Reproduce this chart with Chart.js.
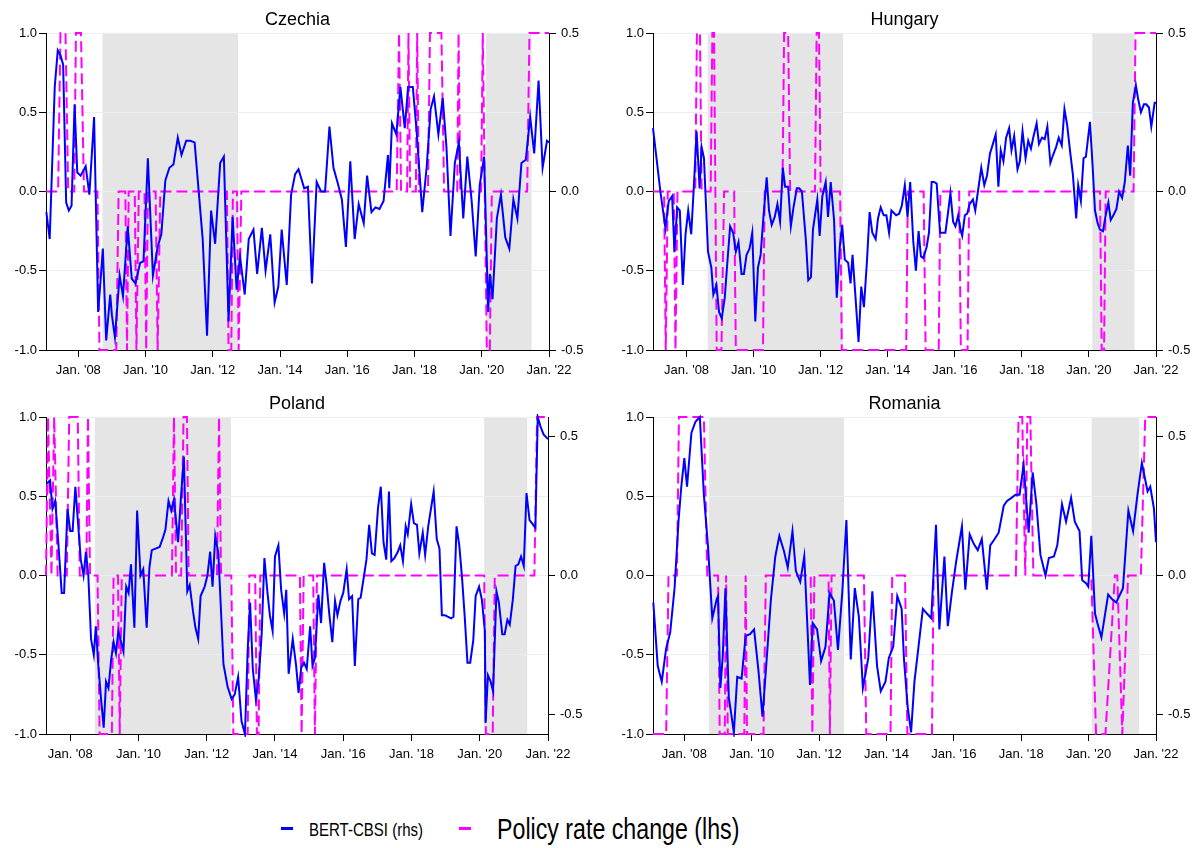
<!DOCTYPE html>
<html>
<head>
<meta charset="utf-8">
<script src="https://cdn.jsdelivr.net/npm/chart.js@4.4.1/dist/chart.umd.min.js"></script>
<style>
  html, body { margin: 0; padding: 0; background: #fff; }
  #wrap { position: relative; width: 1202px; height: 848px; overflow: hidden; }
  canvas { position: absolute; }
  #cz { left: 0; top: 0; }
  #hu { left: 607px; top: 0; }
  #pl { left: 0; top: 384px; }
  #ro { left: 607px; top: 384px; }
  #legend { position: absolute; left: 0; top: 811px; width: 1202px; height: 36px;
    font-family: "Liberation Sans", Arial, sans-serif; color: #000; white-space: nowrap; }
  .key { position: absolute; top: 50%; margin-top: -2px; width: 12px; height: 3px; }
  .lab { position: absolute; top: 50%; line-height: 1; transform-origin: left center; }
  .small { font-size: 19px; transform: translateY(-50%) scaleX(0.79); }
  .big { font-size: 29px; transform: translateY(-50%) scaleX(0.8); }
</style>
</head>
<body>
<div id="wrap">
  <canvas id="cz" width="601" height="384"></canvas>
  <canvas id="hu" width="595" height="384"></canvas>
  <canvas id="pl" width="601" height="384"></canvas>
  <canvas id="ro" width="595" height="384"></canvas>
  <div id="legend">
    <span class="key" style="left:281px; background:#0000ff"></span>
    <span class="lab small" style="left:309px">BERT-CBSI (rhs)</span>
    <span class="key" style="left:459px; background:#ff00ff"></span>
    <span class="lab big" style="left:497px">Policy rate change (lhs)</span>
  </div>
</div>
<script>
const xTicks = [2008, 2010, 2012, 2014, 2016, 2018, 2020, 2022];
const xTickLabels = ["Jan. '08", "Jan. '10", "Jan. '12", "Jan. '14", "Jan. '16", "Jan. '18", "Jan. '20", "Jan. '22"];
const rhsTicks = [-0.5, 0, 0.5];

// Czechia
const czBertT = [
  2007.05, 2007.15, 2007.30, 2007.39, 2007.47, 2007.55, 2007.64, 2007.72, 2007.80, 2007.89,
  2007.97, 2008.07, 2008.22, 2008.33, 2008.47, 2008.55, 2008.59, 2008.65, 2008.73, 2008.83,
  2008.95, 2009.00, 2009.09, 2009.23, 2009.33, 2009.47, 2009.59, 2009.70, 2009.84, 2009.94,
  2010.07, 2010.22, 2010.36, 2010.47, 2010.59, 2010.71, 2010.83, 2010.96, 2011.07, 2011.21,
  2011.33, 2011.46, 2011.70, 2011.83, 2011.95, 2012.07, 2012.22, 2012.33, 2012.47, 2012.59,
  2012.71, 2012.81, 2012.95, 2013.07, 2013.21, 2013.32, 2013.46, 2013.57, 2013.71, 2013.84,
  2013.95, 2014.05, 2014.20, 2014.33, 2014.45, 2014.55, 2014.72, 2014.83, 2014.95, 2015.09,
  2015.22, 2015.34, 2015.47, 2015.59, 2015.72, 2015.84, 2015.96, 2016.09, 2016.22, 2016.34,
  2016.49, 2016.59, 2016.72, 2016.84, 2016.96, 2017.08, 2017.21, 2017.25, 2017.33, 2017.46,
  2017.58, 2017.71, 2017.81, 2017.95, 2018.06, 2018.23, 2018.36, 2018.48, 2018.58, 2018.71,
  2018.84, 2018.95, 2019.07, 2019.20, 2019.32, 2019.45, 2019.57, 2019.70, 2019.82, 2019.94,
  2020.07, 2020.19, 2020.24, 2020.32, 2020.45, 2020.57, 2020.70, 2020.82, 2020.94, 2021.06,
  2021.18, 2021.31, 2021.44, 2021.56, 2021.69, 2021.81, 2021.94, 2022.00
];
const czBert = [
  -0.13, -0.30, 0.66, 0.89, 0.86, 0.80, -0.07, -0.12, -0.09, 0.55,
  0.12, 0.10, 0.16, -0.02, 0.47, -0.34, -0.76, -0.60, -0.36, -0.94,
  -0.65, -0.78, -0.92, -0.53, -0.66, -0.22, -0.55, -0.58, -0.45, -0.44,
  0.21, -0.53, -0.35, -0.27, 0.07, 0.15, 0.17, 0.34, 0.23, 0.32,
  0.32, 0.31, -0.30, -0.91, -0.12, -0.33, 0.18, 0.22, -0.82, -0.16,
  -0.62, -0.41, -0.65, -0.30, -0.24, -0.52, -0.23, -0.50, -0.27, -0.70,
  -0.60, -0.24, -0.59, -0.02, 0.11, 0.14, 0.02, 0.03, -0.58, 0.06,
  0.00, 0.00, 0.41, 0.15, 0.05, -0.05, -0.35, 0.19, -0.30, -0.08,
  -0.20, 0.10, -0.13, -0.10, -0.11, -0.06, 0.23, 0.02, 0.43, 0.36,
  0.66, 0.40, 0.66, 0.66, 0.39, -0.13, 0.15, 0.52, 0.60, 0.36,
  0.59, 0.28, -0.28, 0.18, 0.31, -0.17, 0.22, -0.06, -0.41, 0.04,
  0.22, -0.76, -0.52, -0.68, -0.17, -0.02, -0.29, -0.36, -0.05, -0.17,
  0.18, 0.20, 0.47, 0.24, 0.70, 0.15, 0.32, 0.31
];
const czRateT = [
  2007.04, 2007.40, 2007.47, 2007.62, 2007.70, 2007.88, 2007.93, 2008.08, 2008.17, 2008.57,
  2008.63, 2009.13, 2009.20, 2009.40, 2009.45, 2009.50, 2009.68, 2009.73, 2009.80, 2009.97,
  2010.02, 2010.07, 2010.30, 2010.36, 2010.44, 2012.42, 2012.47, 2012.55, 2012.60, 2012.72,
  2012.77, 2012.85, 2017.47, 2017.54, 2017.60, 2017.78, 2017.82, 2017.87, 2018.04, 2018.08,
  2018.13, 2018.40, 2018.46, 2018.80, 2018.88, 2019.27, 2019.31, 2019.36, 2019.98, 2020.03,
  2020.09, 2020.15, 2020.24, 2020.30, 2021.35, 2021.42, 2022.00
];
const czRate = [
  0, 0, 0.5, 0.5, 0, 0, 0.5, 0.5, 0, 0,
  -0.5, -0.5, 0, 0, -0.5, 0, 0, -0.5, 0, 0,
  -0.5, 0, 0, -0.5, 0, 0, -0.5, -0.5, 0, 0,
  -0.5, 0, 0, 0.5, 0, 0, 0.5, 0, 0, 0.5,
  0, 0, 0.5, 0.5, 0, 0, 0.5, 0, 0, 0.5,
  0, -0.5, -0.5, 0, 0, 0.5, 0.5
];
const czShade = [[2008.72, 2012.75], [2020.12, 2021.48]];

// Hungary
const huBertT = [
  2007.00, 2007.22, 2007.37, 2007.47, 2007.57, 2007.64, 2007.72, 2007.80, 2007.89, 2007.97,
  2008.05, 2008.14, 2008.22, 2008.30, 2008.39, 2008.45, 2008.52, 2008.64, 2008.74, 2008.80,
  2008.89, 2008.97, 2009.05, 2009.14, 2009.22, 2009.30, 2009.39, 2009.47, 2009.55, 2009.64,
  2009.71, 2009.79, 2009.88, 2009.96, 2010.05, 2010.13, 2010.21, 2010.29, 2010.39, 2010.46,
  2010.54, 2010.63, 2010.71, 2010.79, 2010.87, 2010.94, 2011.03, 2011.11, 2011.19, 2011.29,
  2011.36, 2011.44, 2011.56, 2011.63, 2011.71, 2011.77, 2011.90, 2011.97, 2012.05, 2012.15,
  2012.22, 2012.30, 2012.40, 2012.48, 2012.57, 2012.64, 2012.72, 2012.82, 2012.89, 2012.95,
  2013.03, 2013.13, 2013.21, 2013.29, 2013.38, 2013.46, 2013.54, 2013.64, 2013.71, 2013.79,
  2013.88, 2013.96, 2014.04, 2014.11, 2014.25, 2014.34, 2014.42, 2014.51, 2014.59, 2014.67,
  2014.76, 2014.84, 2014.92, 2014.99, 2015.06, 2015.16, 2015.23, 2015.31, 2015.38, 2015.46,
  2015.56, 2015.63, 2015.72, 2015.80, 2015.87, 2015.95, 2016.02, 2016.10, 2016.17, 2016.22,
  2016.30, 2016.37, 2016.44, 2016.54, 2016.61, 2016.69, 2016.79, 2016.88, 2016.96, 2017.05,
  2017.15, 2017.22, 2017.30, 2017.37, 2017.45, 2017.53, 2017.62, 2017.69, 2017.77, 2017.87,
  2017.94, 2018.02, 2018.11, 2018.19, 2018.27, 2018.35, 2018.44, 2018.51, 2018.60, 2018.68,
  2018.76, 2018.85, 2018.93, 2019.02, 2019.10, 2019.19, 2019.27, 2019.35, 2019.44, 2019.52,
  2019.62, 2019.68, 2019.76, 2019.84, 2019.91, 2020.03, 2020.11, 2020.18, 2020.26, 2020.33,
  2020.42, 2020.49, 2020.58, 2020.65, 2020.73, 2020.82, 2020.90, 2020.99, 2021.07, 2021.16,
  2021.23, 2021.31, 2021.40, 2021.47, 2021.55, 2021.64, 2021.71, 2021.79, 2021.86, 2021.96,
  2022.00
];
const huBert = [
  0.40, 0.00, -0.23, -0.06, -0.03, -0.38, -0.10, -0.12, -0.59, -0.27,
  -0.12, -0.27, 0.04, 0.38, 0.02, 0.28, 0.21, -0.38, -0.48, -0.65,
  -0.59, -0.76, -0.80, -0.67, -0.44, -0.22, -0.26, -0.38, -0.32, -0.52,
  -0.52, -0.40, -0.36, -0.26, -0.82, -0.48, -0.40, -0.17, 0.09, -0.12,
  -0.21, -0.16, -0.08, -0.19, 0.15, 0.03, 0.03, -0.22, -0.10, 0.02,
  0.02, 0.00, -0.31, -0.56, -0.54, -0.24, -0.05, -0.28, -0.03, 0.06,
  -0.16, 0.06, -0.18, -0.67, -0.35, -0.21, -0.43, -0.45, -0.58, -0.40,
  -0.64, -0.95, -0.60, -0.73, -0.44, -0.13, -0.26, -0.30, -0.17, -0.10,
  -0.15, -0.15, -0.26, -0.12, -0.15, -0.14, -0.09, 0.04, -0.16, 0.06,
  -0.31, -0.50, -0.25, -0.41, -0.42, -0.35, -0.26, 0.06, 0.06, 0.05,
  -0.26, -0.26, -0.26, -0.13, -0.01, -0.19, -0.22, -0.15, -0.24, -0.28,
  -0.15, -0.14, -0.08, -0.05, -0.12, 0.00, 0.15, 0.04, 0.10, 0.24,
  0.31, 0.36, 0.03, 0.26, 0.19, 0.34, 0.40, 0.26, 0.35, 0.14,
  0.19, 0.38, 0.21, 0.32, 0.27, 0.35, 0.43, 0.30, 0.34, 0.33,
  0.41, 0.18, 0.23, 0.28, 0.34, 0.29, 0.52, 0.42, 0.25, 0.11,
  -0.17, 0.04, -0.06, 0.21, 0.22, 0.44, 0.16, -0.12, -0.20, -0.24,
  -0.25, -0.16, -0.07, -0.18, -0.15, -0.11, 0.00, -0.04, 0.06, 0.29,
  0.10, 0.56, 0.67, 0.58, 0.50, 0.55, 0.55, 0.53, 0.41, 0.56,
  0.56
];
const huRateT = [
  2007.00, 2007.33, 2007.38, 2007.44, 2007.62, 2007.67, 2007.73, 2008.26, 2008.31, 2008.40,
  2008.45, 2008.72, 2008.77, 2008.82, 2008.90, 2009.04, 2009.12, 2009.42, 2009.47, 2010.28,
  2010.33, 2010.86, 2010.91, 2011.03, 2011.09, 2011.83, 2011.88, 2011.95, 2012.00, 2012.58,
  2012.63, 2014.55, 2014.60, 2015.07, 2015.13, 2015.52, 2015.57, 2016.13, 2016.18, 2016.38,
  2016.43, 2020.33, 2020.38, 2020.45, 2020.50, 2021.33, 2021.39, 2022.00
];
const huRate = [
  0, 0, -0.5, 0, 0, -0.5, 0, 0, 0.5, 0.5,
  0, 0, 0.5, 0.5, -0.5, -0.5, 0, 0, -0.5, -0.5,
  0, 0, 0.5, 0.5, 0, 0, 0.5, 0.5, 0, 0,
  -0.5, -0.5, 0, 0, -0.5, -0.5, 0, 0, -0.5, -0.5,
  0, 0, -0.5, -0.5, 0, 0, 0.5, 0.5
];
const huShade = [[2008.63, 2012.67], [2020.10, 2021.36]];

// Poland
const plBertT = [
  2007.31, 2007.41, 2007.48, 2007.56, 2007.65, 2007.75, 2007.82, 2007.92, 2008.00, 2008.07,
  2008.15, 2008.24, 2008.31, 2008.39, 2008.46, 2008.53, 2008.61, 2008.69, 2008.75, 2008.82,
  2008.90, 2008.98, 2009.05, 2009.12, 2009.20, 2009.27, 2009.34, 2009.41, 2009.49, 2009.56,
  2009.64, 2009.71, 2009.78, 2009.88, 2009.96, 2010.06, 2010.14, 2010.24, 2010.32, 2010.39,
  2010.50, 2010.62, 2010.72, 2010.79, 2010.88, 2010.96, 2011.04, 2011.16, 2011.25, 2011.33,
  2011.43, 2011.50, 2011.60, 2011.67, 2011.75, 2011.82, 2011.94, 2012.02, 2012.10, 2012.17,
  2012.25, 2012.34, 2012.49, 2012.61, 2012.73, 2012.82, 2012.92, 2013.02, 2013.12, 2013.20,
  2013.27, 2013.35, 2013.44, 2013.52, 2013.61, 2013.69, 2013.78, 2013.85, 2013.93, 2014.00,
  2014.10, 2014.18, 2014.27, 2014.33, 2014.40, 2014.52, 2014.62, 2014.69, 2014.77, 2014.85,
  2014.93, 2015.03, 2015.10, 2015.17, 2015.27, 2015.35, 2015.44, 2015.51, 2015.59, 2015.68,
  2015.76, 2015.83, 2015.92, 2016.00, 2016.10, 2016.17, 2016.26, 2016.34, 2016.44, 2016.51,
  2016.61, 2016.68, 2016.76, 2016.84, 2016.92, 2017.02, 2017.10, 2017.18, 2017.26, 2017.34,
  2017.41, 2017.50, 2017.60, 2017.67, 2017.75, 2017.83, 2017.89, 2017.99, 2018.07, 2018.16,
  2018.23, 2018.33, 2018.40, 2018.49, 2018.57, 2018.65, 2018.74, 2018.82, 2018.89, 2018.98,
  2019.06, 2019.16, 2019.23, 2019.32, 2019.40, 2019.48, 2019.56, 2019.64, 2019.72, 2019.81,
  2019.88, 2019.98, 2020.06, 2020.15, 2020.17, 2020.24, 2020.32, 2020.39, 2020.49, 2020.56,
  2020.66, 2020.73, 2020.81, 2020.88, 2020.97, 2021.05, 2021.13, 2021.21, 2021.29, 2021.37,
  2021.46, 2021.53, 2021.63, 2021.70, 2021.78, 2021.87, 2022.00
];
const plBert = [
  0.58, 0.60, 0.42, 0.47, 0.21, -0.11, -0.11, 0.42, 0.28, 0.28,
  0.56, 0.30, 0.10, 0.00, 0.15, 0.00, -0.40, -0.50, -0.32, -0.56,
  -0.77, -0.96, -0.67, -0.71, -0.53, -0.42, -0.49, -0.35, -0.42, -0.48,
  -0.07, -0.11, 0.07, -0.33, 0.41, 0.00, 0.04, -0.33, 0.05, 0.16,
  0.17, 0.18, 0.24, 0.29, 0.47, 0.41, 0.48, 0.21, 0.51, 0.75,
  -0.10, -0.06, -0.23, -0.33, -0.40, -0.13, -0.07, 0.00, 0.15, -0.07,
  0.25, 0.14, -0.56, -0.70, -0.78, -0.75, -0.64, -0.92, -1.00, -0.47,
  -0.17, -0.59, -0.78, -0.66, -0.37, 0.11, -0.11, -0.25, -0.35, 0.12,
  0.19, -0.09, -0.24, -0.09, -0.62, -0.40, -0.57, -0.74, -0.58, -0.55,
  -0.59, -0.32, -0.57, -0.52, -0.12, -0.30, 0.08, -0.05, -0.24, -0.42,
  -0.16, -0.25, -0.16, -0.11, 0.04, -0.15, -0.13, -0.57, -0.15, -0.14,
  0.00, 0.10, 0.32, 0.14, 0.13, 0.43, 0.56, 0.21, 0.10, 0.53,
  0.09, 0.11, 0.15, 0.19, 0.09, 0.31, 0.26, 0.45, 0.33, 0.32,
  0.14, 0.27, 0.13, 0.31, 0.42, 0.53, 0.23, 0.17, -0.25, -0.25,
  -0.26, -0.27, -0.26, 0.31, 0.19, -0.01, -0.26, -0.55, -0.55, -0.41,
  -0.13, -0.07, -0.15, -0.35, -0.93, -0.63, -0.67, -0.73, -0.10, -0.17,
  -0.37, -0.37, -0.28, -0.31, -0.15, 0.06, 0.07, 0.12, 0.06, 0.52,
  0.35, 0.33, 0.30, 1.00, 0.94, 0.89, 0.86
];
const plRateT = [
  2007.29, 2007.35, 2007.45, 2007.53, 2007.63, 2007.90, 2007.97, 2008.22, 2008.28, 2008.47,
  2008.52, 2008.58, 2008.80, 2008.86, 2009.22, 2009.27, 2009.40, 2009.45, 2009.51, 2010.98,
  2011.04, 2011.10, 2011.25, 2011.32, 2011.42, 2011.47, 2012.30, 2012.36, 2012.42, 2012.72,
  2012.78, 2013.20, 2013.25, 2013.42, 2013.47, 2013.52, 2013.57, 2014.73, 2014.78, 2014.84,
  2015.12, 2015.17, 2015.23, 2020.13, 2020.18, 2020.38, 2020.44, 2021.60, 2021.68, 2022.00
];
const plRate = [
  0, 0.57, 0, 0.57, 0, 0, 0.57, 0.57, 0, 0,
  0.57, 0, 0, -0.57, -0.57, 0, 0, -0.57, 0, 0,
  0.57, 0, 0, 0.57, 0.57, 0, 0, 0.57, 0, 0,
  -0.57, -0.57, 0, 0, -0.57, -0.57, 0, 0, -0.57, 0,
  0, -0.57, 0, 0, -0.57, -0.57, 0, 0, 0.57, 0.57
];
const plShade = [[2008.72, 2012.71], [2020.13, 2021.39]];

// Romania
const roBertT = [
  2007.08, 2007.21, 2007.33, 2007.46, 2007.58, 2007.71, 2007.83, 2007.91, 2008.00, 2008.08,
  2008.21, 2008.33, 2008.46, 2008.58, 2008.70, 2008.83, 2008.96, 2009.00, 2009.07, 2009.14,
  2009.22, 2009.32, 2009.39, 2009.47, 2009.57, 2009.70, 2009.82, 2009.95, 2010.07, 2010.20,
  2010.32, 2010.45, 2010.57, 2010.70, 2010.82, 2010.95, 2011.07, 2011.21, 2011.31, 2011.44,
  2011.56, 2011.73, 2011.81, 2011.94, 2012.06, 2012.19, 2012.31, 2012.44, 2012.56, 2012.69,
  2012.81, 2012.94, 2013.06, 2013.18, 2013.30, 2013.46, 2013.58, 2013.72, 2013.83, 2013.97,
  2014.07, 2014.20, 2014.32, 2014.45, 2014.52, 2014.63, 2014.73, 2014.83, 2014.95, 2015.08,
  2015.20, 2015.33, 2015.47, 2015.57, 2015.72, 2015.82, 2015.94, 2016.07, 2016.24, 2016.34,
  2016.47, 2016.59, 2016.71, 2016.83, 2016.98, 2017.08, 2017.21, 2017.33, 2017.48, 2017.58,
  2017.71, 2017.83, 2017.95, 2018.07, 2018.22, 2018.34, 2018.45, 2018.57, 2018.72, 2018.82,
  2018.97, 2019.07, 2019.21, 2019.33, 2019.48, 2019.59, 2019.73, 2019.81, 2019.93, 2019.99,
  2020.08, 2020.19, 2020.26, 2020.38, 2020.58, 2020.70, 2020.82, 2021.02, 2021.18, 2021.32,
  2021.45, 2021.58, 2021.75, 2021.83, 2021.94, 2022.00
];
const roBert = [
  -0.17, -0.57, -0.67, -0.46, -0.36, -0.08, 0.35, 0.56, 0.74, 0.56,
  0.90, 0.97, 1.00, 0.51, 0.19, -0.27, -0.15, -0.13, -0.71, -0.51,
  -0.08, -0.77, -0.87, -0.99, -0.64, -0.65, -0.38, -0.37, -0.34, -0.60,
  -0.89, -0.51, -0.15, 0.12, 0.25, 0.16, 0.05, 0.28, 0.03, -0.04,
  0.12, -0.69, -0.30, -0.34, -0.54, -0.45, -0.11, -0.16, -0.47, -0.10,
  0.35, -0.53, -0.08, -0.26, -0.71, -0.52, -0.10, -0.57, -0.73, -0.67,
  -0.52, -0.45, -0.13, -0.21, -0.53, -0.83, -0.99, -0.67, -0.45, -0.21,
  -0.24, -0.27, 0.32, -0.34, 0.12, -0.32, -0.11, 0.09, 0.31, -0.09,
  0.26, 0.20, 0.16, 0.23, -0.09, 0.19, 0.23, 0.27, 0.44, 0.47,
  0.49, 0.51, 0.51, 0.70, 0.27, 0.65, 0.45, 0.13, 0.00, 0.11,
  0.12, 0.19, 0.45, 0.34, 0.49, 0.34, 0.28, -0.03, -0.05, -0.07,
  0.25, -0.24, -0.30, -0.39, -0.12, -0.15, -0.17, -0.08, 0.41, 0.28,
  0.51, 0.71, 0.53, 0.56, 0.42, 0.21
];
const roRateT = [
  2007.07, 2007.46, 2007.53, 2007.78, 2007.84, 2008.58, 2008.68, 2009.00, 2009.05, 2009.20,
  2009.24, 2009.29, 2009.78, 2009.82, 2009.86, 2010.35, 2010.42, 2011.75, 2011.80, 2011.86,
  2012.28, 2012.32, 2012.37, 2013.33, 2013.40, 2014.12, 2014.17, 2014.55, 2014.62, 2015.35,
  2015.40, 2017.84, 2017.92, 2018.03, 2018.12, 2018.18, 2018.27, 2018.36, 2020.08, 2020.22,
  2020.50, 2020.78, 2020.85, 2021.00, 2021.17, 2021.55, 2021.68, 2022.00
];
const roRate = [
  -0.57, -0.57, 0, 0, 0.57, 0.57, 0, 0, -0.57, -0.57,
  0, -0.57, -0.57, 0, -0.57, -0.57, 0, 0, -0.57, 0,
  0, -0.57, 0, 0, -0.57, -0.57, 0, 0, -0.57, -0.57,
  0, 0, 0.57, 0.57, 0, 0.57, 0.57, 0, 0, -0.57,
  -0.57, 0, 0, -0.57, 0, 0, 0.57, 0.57
];
const roShade = [[2008.73, 2012.74], [2020.09, 2021.50]];

Chart.defaults.font.family = '"Liberation Sans", Arial, sans-serif';
Chart.defaults.color = '#000';

// grey bands behind the lines
const shadePlugin = {
    id: 'shade',
    beforeDraw(chart, args, opts) {
        const { ctx, chartArea: area, scales: { x } } = chart;
        ctx.save();
        ctx.fillStyle = '#e5e5e5';
        (opts.periods || []).forEach(([from, to]) => {
            const x0 = x.getPixelForValue(from);
            const x1 = x.getPixelForValue(to);
            ctx.fillRect(x0, area.top, x1 - x0, area.bottom - area.top);
        });
        ctx.restore();
    },
};

function points(ts, vs) {
    return ts.map((t, i) => ({ x: t, y: vs[i] }));
}

function panel(id, title, xMin, rhsMax, bertT, bert, rateT, rate, shade, rightWidth) {
    return new Chart(document.getElementById(id), {
        type: 'line',
        data: {
            datasets: [
                {
                    label: 'BERT-CBSI (rhs)',
                    data: points(bertT, bert),
                    yAxisID: 'y',
                    borderColor: '#0000ff',
                    borderWidth: 2,
                    pointRadius: 0,
                    tension: 0,
                    clip: 3,
                },
                {
                    label: 'Policy rate change (lhs)',
                    data: points(rateT, rate),
                    yAxisID: 'y2',
                    borderColor: '#ff00ff',
                    borderWidth: 2,
                    borderDash: [11, 5],
                    pointRadius: 0,
                    tension: 0,
                    clip: 3,
                },
            ],
        },
        options: {
            responsive: false,
            animation: false,
            devicePixelRatio: 1,
            layout: { padding: 0 },
            plugins: {
                legend: { display: false },
                tooltip: { enabled: false },
                title: {
                    display: true,
                    text: title,
                    fullSize: false,
                    font: { size: 18, weight: 'normal', lineHeight: 1 },
                    padding: { top: 11, bottom: 4 },
                },
                shade: { periods: shade },
            },
            scales: {
                x: {
                    type: 'linear',
                    min: xMin,
                    max: 2022,
                    afterBuildTicks: (s) => { s.ticks = xTicks.map((v) => ({ value: v })); },
                    afterFit: (s) => { s.height = 34; },
                    ticks: {
                        autoSkip: false,
                        maxRotation: 0,
                        font: { size: 13 },
                        padding: 6,
                        callback: (v) => xTickLabels[xTicks.indexOf(v)],
                    },
                    grid: { drawOnChartArea: false, color: '#000', tickLength: 7 },
                    border: { color: '#000' },
                },
                y: {
                    position: 'left',
                    min: -1,
                    max: 1,
                    afterFit: (s) => { s.width = 46; },
                    ticks: { stepSize: 0.5, font: { size: 13 }, padding: 2, callback: (v) => v.toFixed(1) },
                    grid: { color: '#e9eef2', tickColor: '#000', tickLength: 7 },
                    border: { color: '#000' },
                },
                y2: {
                    position: 'right',
                    min: -rhsMax,
                    max: rhsMax,
                    afterBuildTicks: (s) => { s.ticks = rhsTicks.map((v) => ({ value: v })); },
                    afterFit: (s) => { s.width = rightWidth; },
                    ticks: { font: { size: 13 }, padding: 5, callback: (v) => v.toFixed(1) },
                    grid: { drawOnChartArea: false, color: '#000', tickLength: 7 },
                    border: { color: '#000' },
                },
            },
        },
        plugins: [shadePlugin],
    });
}

panel('cz', 'Czechia', 2007.04, 0.5, czBertT, czBert, czRateT, czRate, czShade, 52);
panel('hu', 'Hungary', 2007.0, 0.5, huBertT, huBert, huRateT, huRate, huShade, 46);
panel('pl', 'Poland', 2007.29, 0.57, plBertT, plBert, plRateT, plRate, plShade, 53);
panel('ro', 'Romania', 2007.07, 0.57, roBertT, roBert, roRateT, roRate, roShade, 46);
</script>
</body>
</html>
